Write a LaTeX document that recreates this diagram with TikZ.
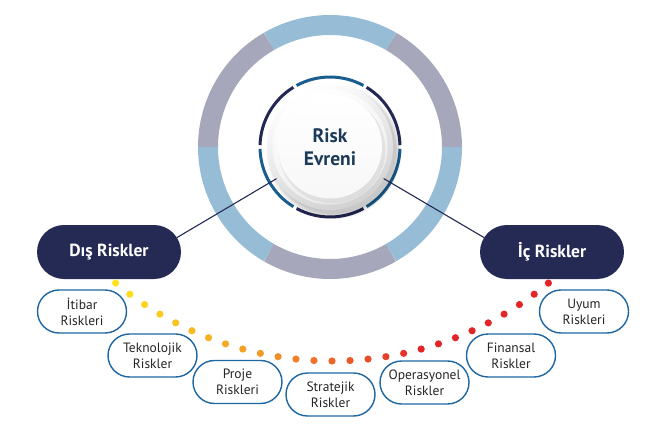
\documentclass[tikz,border=0pt]{standalone}
\usepackage{fontspec}
\setmainfont{PT Sans}
\usetikzlibrary{calc,shapes.misc}
\definecolor{ringblue}{HTML}{97BDD6}
\definecolor{ringgray}{HTML}{A6A7BB}
\definecolor{navy}{HTML}{252A55}
\definecolor{dashnavy}{HTML}{232752}
\definecolor{dashblue}{HTML}{1A5E90}
\definecolor{boxblue}{HTML}{1F67A3}
\definecolor{riskink}{HTML}{1C3A58}
\definecolor{dotyellow}{HTML}{FFE31C}
\definecolor{dotorange}{HTML}{F39A27}
\definecolor{dotred}{HTML}{E42528}
\def\ringarc[#1](#2)(#3:#4:#5){\draw[#1] ($(#2)+({#5*cos(#3)},{#5*sin(#3)})$) arc (#3:#4:#5);}

\begin{document}
\begin{tikzpicture}[x=1pt,y=1pt,
	riskbox/.style={rounded rectangle, draw=boxblue, line width=1.4pt, fill=white, minimum width=89pt, minimum height=43pt, inner sep=0pt, align=center, text=black!85, font=\fontsize{13.5}{16}\selectfont},
	groupbox/.style={rounded rectangle, fill=navy, minimum width=144pt, minimum height=54pt, inner sep=0pt, text=white, font=\fontsize{17.5}{20}\selectfont\bfseries},
	link/.style={draw=navy, line width=1.1pt}]
			%%%%% START %%%%%
			
			\useasboundingbox (0,0) rectangle (659,432);
			
			% outer ring
			\foreach \a/\c in {0/ringgray,60/ringblue,120/ringgray,180/ringblue,240/ringgray,300/ringblue}{
				\ringarc[line width=20pt, \c](330,285)(\a:\a+60:122)
			}
			
			% dashed inner ring
			\foreach \a/\c in {0/dashnavy,60/dashblue,120/dashnavy,180/dashblue,240/dashnavy,300/dashblue}{
				\ringarc[line width=3pt, \c](330,285)(\a+1.5:\a+58.5:70)
			}
			
			% button
			\foreach \s in {0,...,5}{
				\fill[black, opacity=0.04] (334,280) circle (62+\s);
			}
			\shade[top color=white, bottom color=black!18, shading angle=25] (330,285) circle (63);
			\shade[top color=white, bottom color=black!8, shading angle=25] (330,285) circle (57.5);
			\fill[black, opacity=0.06] (332,282) circle (53.5);
			\shade[top color=white, bottom color=black!3] (330,285.5) circle (52);
			\node[circle, minimum size=124pt, inner sep=0pt, align=center, text=riskink, font=\fontsize{19.5}{23}\selectfont\bfseries] (core) at (330,285) {Risk\\Evreni};
			
			% groups
			\node[groupbox] (dis) at (109,180) {Dış Riskler};
			\node[groupbox] (ic) at (552,180) {İç Riskler};
			\draw[link] (dis.12) -- (core);
			\draw[link] (ic.168) -- (core);
			
			% dots
			\foreach \i in {0,...,26}{
				\pgfmathsetmacro\ang{230.4+\i*79.2/26}
				\ifnum\i<10
					\pgfmathsetmacro\mix{\i/9*100}
					\fill[dotorange!\mix!dotyellow] ($(332,410.5)+(\ang:339.5)$) circle (3.6);
				\else\ifnum\i<19
					\pgfmathsetmacro\mix{(\i-9)/9*100}
					\fill[dotred!\mix!dotorange] ($(332,410.5)+(\ang:339.5)$) circle (3.6);
				\else
					\fill[dotred] ($(332,410.5)+(\ang:339.5)$) circle (3.6);
				\fi\fi
			}
			
			% risk boxes
			\node[riskbox] (itibar) at (82,120.5) {İtibar\\Riskleri};
			\node[riskbox] (teknoloji) at (152.5,76.5) {Teknolojik\\Riskler};
			\node[riskbox] (proje) at (237.5,50) {Proje\\Riskleri};
			\node[riskbox] (strateji) at (330.5,37.5) {Stratejik\\Riskler};
			\node[riskbox] (operasyon) at (424.5,49.5) {Operasyonel\\Riskler};
			\node[riskbox] (finans) at (511,76.5) {Finansal\\Riskler};
			\node[riskbox] (uyum) at (584,120.5) {Uyum\\Riskleri};
			
			%%%%% END %%%%%
\end{tikzpicture}
\end{document}
